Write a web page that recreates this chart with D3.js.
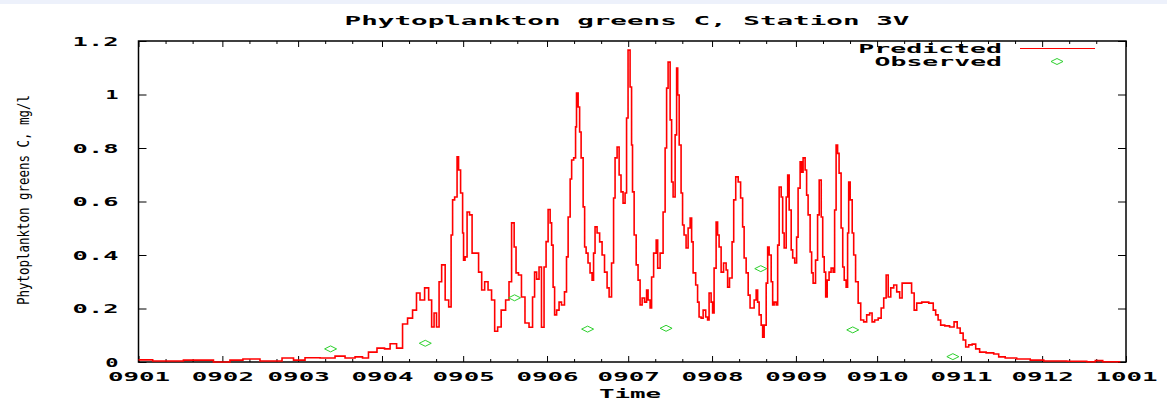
<!DOCTYPE html>
<html>
<head>
<script src="https://cdn.jsdelivr.net/npm/d3@7"></script>
<style>
  body { margin: 0; background: #fff; }
</style>
</head>
<body>
<svg id="chart" width="1167" height="400"></svg>
<script>
// predicted series: day of 2009 (0 = Jan 1) and concentration
const predDay = [
  0,10.5,22.7,32.7,34.9,42.3,47.5,51.2,54.9,59.7,
  63.4,70.8,74.5,78.2,81.9,83.7,86.3,90.0,91.9,94.1,
  96.7,98.5,100.4,102.2,103.3,104.8,106.7,107.8,108.9,109.6,
  110.7,111.5,112.6,114.1,115.2,115.9,116.3,117.4,118.1,118.5,
  119.6,120.0,120.3,121.1,121.8,122.9,123.7,125.1,126.3,127.4,
  128.5,129.9,131.1,132.2,133.3,134.8,136.6,137.3,138.5,139.2,
  139.9,141.0,142.1,143.6,145.1,146.2,146.6,147.7,148.4,149.5,
  150.3,151.0,151.8,152.5,152.9,153.6,154.0,155.1,155.8,156.9,
  158.0,158.4,159.2,159.9,160.3,161.4,161.7,162.1,162.9,163.2,
  164.0,164.7,165.1,165.8,166.5,167.3,168.0,168.4,169.1,169.9,
  171.0,171.7,172.8,173.6,174.3,175.4,175.8,176.5,177.3,178.0,
  178.7,179.5,180.2,180.6,181.3,182.1,182.4,182.8,183.6,184.3,
  185.0,185.8,186.5,187.6,188.0,188.7,189.5,189.8,191.0,191.7,
  192.1,193.5,194.3,195.0,195.4,196.1,196.9,197.2,198.0,198.7,
  199.1,199.5,200.2,200.9,201.3,202.0,202.8,203.5,204.3,204.6,
  205.4,206.5,206.8,207.6,208.3,209.1,210.2,210.5,211.3,212.0,
  212.4,213.1,213.9,214.2,215.0,215.7,216.8,217.6,217.9,219.0,
  219.8,220.2,221.3,222.0,223.1,223.5,224.2,225.0,225.7,226.4,
  227.2,227.9,228.7,229.0,229.8,230.5,230.9,231.6,232.4,232.7,
  233.5,234.2,234.6,235.3,236.1,236.4,237.2,237.9,238.3,239.0,
  239.8,240.1,240.9,241.6,242.0,243.1,243.4,244.2,244.9,245.3,
  246.0,246.8,247.1,247.9,248.6,249.0,249.7,250.8,251.2,252.0,
  252.7,253.1,253.8,254.2,254.9,255.6,256.4,257.1,257.5,258.2,
  258.6,259.3,260.1,260.5,261.2,261.9,262.3,262.7,263.4,264.2,
  264.5,265.6,266.4,267.5,268.6,269.7,270.8,271.5,272.7,274.1,
  274.9,276.0,276.7,277.5,278.6,279.7,280.8,281.9,282.6,284.1,
  285.2,286.3,287.1,288.2,290.8,293.4,294.1,295.2,295.9,297.1,
  298.9,300.7,302.2,303.0,304.4,305.2,306.3,307.4,308.9,310.0,
  311.8,314.8,317.4,318.5,322.2,327.0,332.2,337.0,349.2,351.8,
  355.5,357.3,362.9
]
const predVal = [
  .008,.004,.007,0,.007,.011,.004,.004,.015,.007,
  .016,.015,.022,.015,.019,.015,.037,.052,.049,.068,
  .052,.142,.164,.194,.258,.232,.277,.232,.131,.183,
  .131,.30,.363,.232,.206,.475,.606,.617,.767,.718,
  .632,.482,.381,.393,.561,.55,.407,.407,.336,.269,
  .30,.269,.232,.115,.131,.194,.232,.30,.52,.43,
  .333,.325,.243,.146,.13,.243,.336,.31,.355,.13,
  .355,.45,.57,.52,.437,.28,.176,.194,.224,.213,
  .262,.393,.542,.684,.755,.763,.879,1.005,.953,.86,
  .763,.58,.43,.407,.37,.333,.306,.407,.505,.482,
  .449,.40,.336,.277,.243,.37,.613,.763,.804,.699,
  .636,.594,.632,.912,1.166,1.028,.811,.636,.475,.363,
  .306,.213,.239,.224,.269,.232,.202,.318,.407,.456,
  .351,.407,.561,.80,1.024,1.121,.905,.673,.617,.849,
  1.099,.998,.811,.632,.512,.475,.426,.501,.538,.449,
  .333,.288,.224,.168,.164,.194,.168,.157,.258,.224,
  .183,.351,.523,.475,.43,.336,.37,.344,.28,.314,
  .449,.606,.692,.673,.613,.505,.389,.333,.25,.202,
  .202,.232,.269,.224,.176,.138,.093,.138,.295,.43,
  .40,.30,.213,.224,.213,.437,.654,.617,.482,.426,
  .617,.699,.568,.419,.389,.37,.467,.65,.748,.71,
  .763,.718,.624,.55,.411,.333,.295,.381,.55,.68,
  .542,.393,.336,.243,.306,.336,.351,.336,.568,.811,
  .78,.706,.501,.355,.306,.28,.482,.673,.606,.482,
  .40,.30,.22,.157,.15,.176,.183,.15,.157,.164,
  .202,.239,.325,.243,.277,.288,.262,.239,.295,.295,
  .295,.258,.194,.22,.224,.22,.194,.176,.157,.138,
  .135,.131,.15,.127,.108,.082,.056,.064,.067,.049,
  .037,.034,.03,.019,.015,.011,.007,.004,.003,.001,
  .005,.001,.001
]
// observed samples
const obsDate = ["2009-03-13","2009-04-17","2009-05-20","2009-06-16","2009-07-15","2009-08-19","2009-09-22","2009-10-29"]
const obsVal = [0.049, 0.07, 0.24, 0.123, 0.126, 0.349, 0.12, 0.02]

const monthTicks = ["0901","0902","0903","0904","0905","0906","0907","0908","0909","0910","0911","0912","1001"]
const yTicks = [0, 0.2, 0.4, 0.6, 0.8, 1, 1.2]

const titleText = "Phytoplankton greens C, Station 3V"
const yLabel = "Phytoplankton greens C, mg/l"
const xLabel = "Time"

const svg = d3.select("#chart")
const plotLeft = 138.5, plotRight = 1126, plotTop = 41, plotBottom = 362
const monoFont = "'DejaVu Sans Mono', 'Liberation Mono', monospace"
const charW = 16.3

const parseMonth = d3.timeParse("%y%m")
const parseDay = d3.timeParse("%Y-%m-%d")
const tickDates = monthTicks.map(parseMonth)
const start = tickDates[0]

const x = d3.scaleTime().domain([start, tickDates[tickDates.length - 1]]).range([plotLeft, plotRight])
const y = d3.scaleLinear().domain([0, 1.2]).range([plotBottom, plotTop])

// thin band at the very top
svg.append("rect").attr("x", 0).attr("y", 0).attr("width", 1167).attr("height", 4).attr("fill", "#edf1fb")

function stretchText(sel, n, w = charW) {
  sel.attr("textLength", n * w - 3).attr("lengthAdjust", "spacingAndGlyphs")
}

// minor ticks: 11th and 21st of each month
const minorDates = []
tickDates.slice(0, -1).forEach(d => {
  minorDates.push(new Date(d.getFullYear(), d.getMonth(), 11))
  minorDates.push(new Date(d.getFullYear(), d.getMonth(), 21))
})

const fmt = d3.timeFormat("%y%m")

// bottom axis
const xAxis = svg.append("g").attr("transform", `translate(0,${plotBottom})`)
  .call(d3.axisBottom(x).tickValues(tickDates).tickSize(-6).tickPadding(0).tickFormat(fmt))
xAxis.select(".domain").remove()
xAxis.selectAll("text")
  .attr("y", 19)
  .attr("dy", 0)
  .style("font-family", monoFont).style("font-weight", "bold").style("font-size", "11.5px")
  .attr("fill", "#000")
  .each(function () { stretchText(d3.select(this), 4) })
svg.append("g").attr("transform", `translate(0,${plotBottom})`)
  .call(d3.axisBottom(x).tickValues(minorDates).tickSize(-3).tickFormat(""))
  .select(".domain").remove()

// top mirrored ticks
svg.append("g").attr("transform", `translate(0,${plotTop})`)
  .call(d3.axisTop(x).tickValues(tickDates).tickSize(-6).tickFormat(""))
  .select(".domain").remove()
svg.append("g").attr("transform", `translate(0,${plotTop})`)
  .call(d3.axisTop(x).tickValues(minorDates).tickSize(-3).tickFormat(""))
  .select(".domain").remove()

// left axis
const yFmt = d => String(+d.toFixed(1))
const yAxis = svg.append("g").attr("transform", `translate(${plotLeft},0)`)
  .call(d3.axisLeft(y).tickValues(yTicks).tickSize(-8).tickPadding(20).tickFormat(yFmt))
yAxis.select(".domain").remove()
yAxis.selectAll("text")
  .attr("dy", "0.35em")
  .style("font-family", monoFont).style("font-weight", "bold").style("font-size", "11.5px")
  .attr("fill", "#000")
  .each(function (d) { stretchText(d3.select(this), yFmt(d).length) })

// right mirrored ticks
svg.append("g").attr("transform", `translate(${plotRight},0)`)
  .call(d3.axisRight(y).tickValues(yTicks).tickSize(-8).tickFormat(""))
  .select(".domain").remove()

// border
svg.append("rect")
  .attr("x", plotLeft).attr("y", plotTop)
  .attr("width", plotRight - plotLeft).attr("height", plotBottom - plotTop)
  .attr("fill", "none").attr("stroke", "#000").attr("stroke-width", 1.5)

// predicted line
const pred = predDay.map((d, i) => ({ date: new Date(start.getTime() + d * 86400000), v: predVal[i] }))
const line = d3.line().curve(d3.curveStep).x(d => x(d.date)).y(d => y(d.v))
svg.append("path")
  .datum(pred)
  .attr("d", line)
  .attr("fill", "none")
  .attr("stroke", "#ff0000")
  .attr("stroke-width", 1.6)

// observed diamonds
const diamond = "M-6,0L0,-3L6,0L0,3Z"
svg.append("g").selectAll("path")
  .data(obsDate.map((d, i) => ({ date: parseDay(d), v: obsVal[i] })))
  .join("path")
  .attr("d", diamond)
  .attr("transform", d => `translate(${x(d.date)},${y(d.v)})`)
  .attr("fill", "none")
  .attr("stroke", "#2ed02e")
  .attr("stroke-width", 1)

// title and axis labels
svg.append("text").text(titleText)
  .attr("x", 627).attr("y", 25).attr("text-anchor", "middle")
  .style("font-family", monoFont).style("font-weight", "600").style("font-size", "13px")
  .call(s => stretchText(s, titleText.length, 16.7))
svg.append("text").text(xLabel)
  .attr("x", 630).attr("y", 398).attr("text-anchor", "middle")
  .style("font-family", monoFont).style("font-weight", "bold").style("font-size", "12px")
  .call(s => stretchText(s, xLabel.length))
svg.append("text").text(yLabel)
  .attr("transform", "translate(29,200) rotate(-90)")
  .attr("text-anchor", "middle")
  .attr("textLength", 210).attr("lengthAdjust", "spacingAndGlyphs")
  .style("font-family", monoFont).style("font-size", "15.5px")

// legend
const legend = svg.append("g")
const legendItems = ["Predicted", "Observed"]
legendItems.forEach((name, i) => {
  legend.append("text").text(name)
    .attr("x", 1002).attr("y", 53 + i * 13).attr("text-anchor", "end")
    .style("font-family", monoFont).style("font-weight", "bold").style("font-size", "11.5px")
    .call(s => stretchText(s, name.length))
})
legend.append("line")
  .attr("x1", 1020).attr("x2", 1095).attr("y1", 48.5).attr("y2", 48.5)
  .attr("stroke", "#ff0000").attr("stroke-width", 1)
legend.append("path")
  .attr("d", diamond)
  .attr("transform", "translate(1057,61.5)")
  .attr("fill", "none").attr("stroke", "#2ed02e").attr("stroke-width", 1)
</script>
</body>
</html>
